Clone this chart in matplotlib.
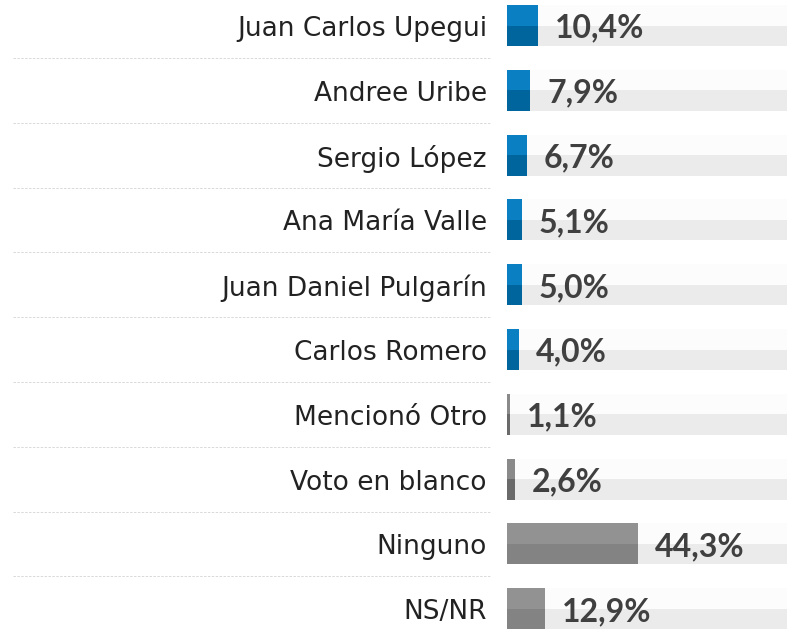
import matplotlib.pyplot as plt
from matplotlib.patches import Rectangle

# data
names = ["Juan Carlos Upegui", "Andree Uribe", "Sergio López", "Ana María Valle",
         "Juan Daniel Pulgarín", "Carlos Romero", "Mencionó Otro", "Voto en blanco",
         "Ninguno", "NS/NR"]
values = [10.4, 7.9, 6.7, 5.1, 5.0, 4.0, 1.1, 2.6, 44.3, 12.9]
value_labels = ["10,4%", "7,9%", "6,7%", "5,1%", "5,0%", "4,0%", "1,1%", "2,6%", "44,3%", "12,9%"]

# colours (top half, bottom half)
blue = ("#0a80c2", "#00659c")
grey_dark = ("#8a8a8a", "#6a6a6a")
grey = ("#929292", "#838383")
bar_colors = [blue] * 6 + [grey_dark] * 2 + [grey] * 2

W, H = 787, 636
fig = plt.figure(figsize=(W / 100, H / 100), dpi=100)
ax = fig.add_axes([507 / W, 0, 1 - 507 / W, 1])

pitch = 64.8
first = 25.5
ax.set_ylim(9 + (H - (first + 9 * pitch)) / pitch, -first / pitch)
xmax = 280 / (131 / 44.3)
ax.set_xlim(0, xmax)
ax.axis("off")

bh = 0.63
for i, (name, v, lab, (ctop, cbot)) in enumerate(zip(names, values, value_labels, bar_colors)):
    top = i - bh / 2
    # background track
    ax.add_patch(Rectangle((0, top), xmax, bh / 2, color="#fcfcfc", lw=0))
    ax.add_patch(Rectangle((0, i), xmax, bh / 2, color="#ebebeb", lw=0))
    # value bar, two tones
    ax.add_patch(Rectangle((0, top), v, bh / 2, color=ctop, lw=0))
    ax.add_patch(Rectangle((0, i), v, bh / 2, color=cbot, lw=0))
    ax.annotate(lab, xy=(v, i), xytext=(12, -2), textcoords="offset points",
                ha="left", va="center", fontsize=23, fontweight="bold",
                color="#404040", family="Lato")
    ax.annotate(name, xy=(0, i), xytext=(-14.4, -2.5), textcoords="offset points",
                ha="right", va="center", fontsize=19, color="#222222",
                family="DejaVu Sans", annotation_clip=False)

# dashed separators
tr = ax.get_yaxis_transform()
x0 = (13 - 507) / 280
x1 = (490 - 507) / 280
for i in range(len(names) - 1):
    ax.plot([x0, x1], [i + 0.5, i + 0.5], transform=tr, clip_on=False,
            color="#d9d9d9", lw=0.7, ls=(0, (2.5, 1.5)))

fig.savefig("out.png", dpi=100)
